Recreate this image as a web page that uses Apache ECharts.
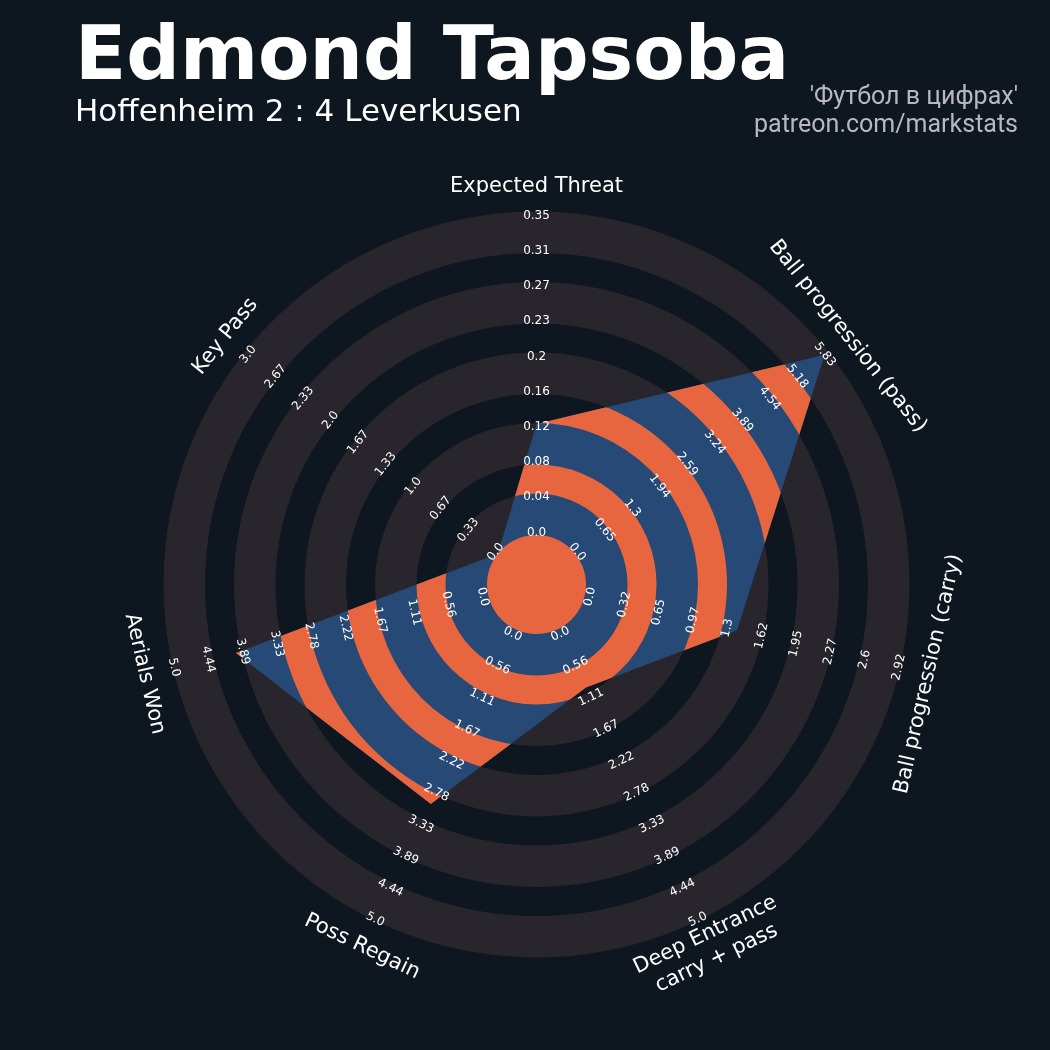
<!DOCTYPE html>
<html>
<head>
<meta charset="utf-8">
<script src="https://cdn.jsdelivr.net/npm/echarts@6/dist/echarts.min.js"></script>
<style>
  html, body { margin: 0; background: #0e1720; }
  #main { width: 1050px; height: 1050px; }
</style>
</head>
<body>
<div id="main"></div>
<script>
  // параметры радара (по часовой стрелке от верха)
  const params = ['Expected Threat', 'Ball progression (pass)', 'Ball progression (carry)',
    'Deep Entrance\ncarry + pass', 'Poss Regain', 'Aerials Won', 'Key Pass']
  const lowValues = [0, 0, 0, 0, 0, 0, 0]
  const highValues = [0.35, 5.83, 2.92, 5.0, 5.0, 5.0, 3.0]
  const playerValues = [0.12, 5.75, 1.41, 1.0, 3.0, 4.0, 0.0]
  const tickLabels = [
    ['0.0', '0.04', '0.08', '0.12', '0.16', '0.2', '0.23', '0.27', '0.31', '0.35'],
    ['0.0', '0.65', '1.3', '1.94', '2.59', '3.24', '3.89', '4.54', '5.18', '5.83'],
    ['0.0', '0.32', '0.65', '0.97', '1.3', '1.62', '1.95', '2.27', '2.6', '2.92'],
    ['0.0', '0.56', '1.11', '1.67', '2.22', '2.78', '3.33', '3.89', '4.44', '5.0'],
    ['0.0', '0.56', '1.11', '1.67', '2.22', '2.78', '3.33', '3.89', '4.44', '5.0'],
    ['0.0', '0.56', '1.11', '1.67', '2.22', '2.78', '3.33', '3.89', '4.44', '5.0'],
    ['0.0', '0.33', '0.67', '1.0', '1.33', '1.67', '2.0', '2.33', '2.67', '3.0']
  ]

  // геометрия колец (в единицах радиальной оси)
  const R_IN = 49.5
  const R_OUT = 373
  const ringEdges = [0, 49.5, 91, 120, 161.5, 190.5, 232, 261, 302.5, 331.5, 373]
  const LABEL_R0 = 53.5
  const LABEL_STEP = 35.2
  const PARAM_R = 400

  const BG = '#0e1720'
  const RING = '#28252c'
  const BLUE = '#264a75'
  const ORANGE = '#e8663f'

  const n = params.length
  const angleOf = i => i * 360 / n
  const toR = (v, i) => R_IN + (v - lowValues[i]) / (highValues[i] - lowValues[i]) * (R_OUT - R_IN)
  const textRot = i => {
    const a = angleOf(i)
    const deg = (a > 90 && a < 270) ? a - 180 : a
    return -deg * Math.PI / 180
  }

  const radarPoints = playerValues.map((v, i) => [toR(v, i), angleOf(i)])
  const bands = ringEdges.slice(0, -1).map((r0, i) => [r0, ringEdges[i + 1], i])

  const tickData = []
  tickLabels.forEach((labels, i) => {
    labels.forEach((t, k) => tickData.push([LABEL_R0 + k * LABEL_STEP, angleOf(i), i, k]))
  })
  const paramData = params.map((p, i) => [PARAM_R, angleOf(i), i])

  const chart = echarts.init(document.getElementById('main'))

  function pxRadius (api, r) {
    const c = api.coord([0, 0])
    const p = api.coord([r, 0])
    return Math.hypot(p[0] - c[0], p[1] - c[1])
  }

  chart.setOption({
    backgroundColor: BG,
    animation: false,
    polar: { center: [536.5, 584.5], radius: R_OUT },
    radiusAxis: { type: 'value', min: 0, max: R_OUT, show: false },
    angleAxis: { type: 'value', min: 0, max: 360, startAngle: 90, clockwise: true, show: false },
    graphic: [
      { type: 'text', x: 75, y: 60, style: { text: 'Edmond Tapsoba', fill: '#fff', fontSize: 75, fontWeight: 'bold', fontFamily: 'DejaVu Sans', align: 'left', verticalAlign: 'middle' } },
      { type: 'text', x: 75, y: 113, style: { text: 'Hoffenheim 2 : 4 Leverkusen', fill: '#fff', fontSize: 31, fontFamily: 'DejaVu Sans', align: 'left', verticalAlign: 'middle' } },
      { type: 'text', x: 1018, y: 98, style: { text: '\'Футбол в цифрах\'', fill: '#b9b9bd', fontSize: 25, fontFamily: 'Roboto', align: 'right', verticalAlign: 'middle' } },
      { type: 'text', x: 1018, y: 126, style: { text: 'patreon.com/markstats', fill: '#b9b9bd', fontSize: 25, fontFamily: 'Roboto', align: 'right', verticalAlign: 'middle' } }
    ],
    series: [
      // фоновые серые кольца
      {
        type: 'custom',
        coordinateSystem: 'polar',
        silent: true,
        data: bands.filter(b => b[2] % 2 === 1),
        renderItem: (p, api) => {
          const c = api.coord([0, 0])
          return {
            type: 'ring',
            shape: { cx: c[0], cy: c[1], r0: pxRadius(api, api.value(0)), r: pxRadius(api, api.value(1)) },
            style: { fill: RING }
          }
        }
      },
      // полигон игрока
      {
        type: 'custom',
        coordinateSystem: 'polar',
        silent: true,
        data: [[0, 0]],
        renderItem: (p, api) => {
          const c = api.coord([0, 0])
          const pts = radarPoints.map(d => api.coord(d))
          const children = [{ type: 'polygon', shape: { points: pts }, style: { fill: BLUE } }]
          bands.filter(b => b[2] % 2 === 0).forEach(b => {
            children.push({
              type: 'ring',
              shape: { cx: c[0], cy: c[1], r0: pxRadius(api, b[0]), r: pxRadius(api, b[1]) },
              style: { fill: ORANGE },
              clipPath: { type: 'polygon', shape: { points: pts } }
            })
          })
          return { type: 'group', children }
        }
      },
      // подписи шкал
      {
        type: 'custom',
        coordinateSystem: 'polar',
        silent: true,
        data: tickData,
        renderItem: (p, api) => {
          const pt = api.coord([api.value(0), api.value(1)])
          const i = api.value(2)
          const k = api.value(3)
          return {
            type: 'text',
            x: pt[0],
            y: pt[1],
            rotation: textRot(i),
            style: { text: tickLabels[i][k], x: 0, y: 1.5, fill: '#fff', fontSize: 12, fontFamily: 'DejaVu Sans', align: 'center', verticalAlign: 'middle' }
          }
        }
      },
      // названия параметров
      {
        type: 'custom',
        coordinateSystem: 'polar',
        silent: true,
        data: paramData,
        renderItem: (p, api) => {
          const pt = api.coord([api.value(0), api.value(1)])
          const i = api.value(2)
          return {
            type: 'text',
            x: pt[0],
            y: pt[1],
            rotation: textRot(i),
            style: { text: params[i], x: 0, y: 2, fill: '#fff', fontSize: 21, lineHeight: 26, fontFamily: 'DejaVu Sans', align: 'center', verticalAlign: 'middle' }
          }
        }
      }
    ]
  })
</script>
</body>
</html>
